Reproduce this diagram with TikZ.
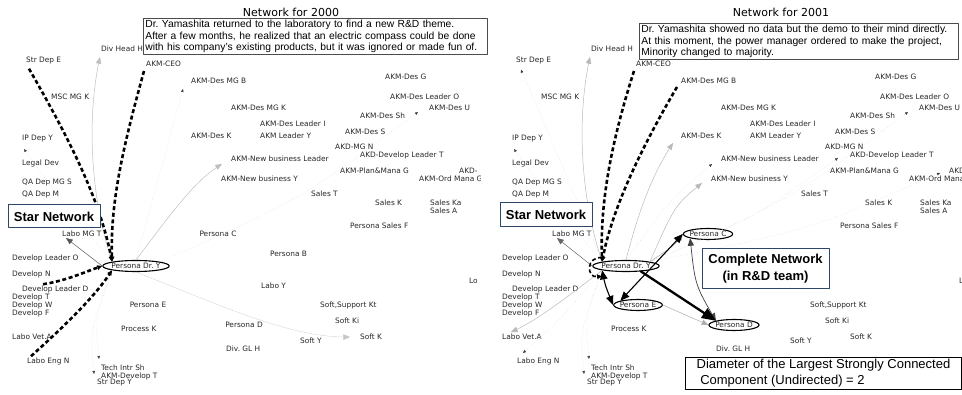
\documentclass[tikz,border=0pt]{standalone}
\usepackage{fontspec}
\setmainfont{Liberation Sans}
\newfontfamily\dejavu{DejaVu Sans}
\usetikzlibrary{arrows,arrows.meta,shapes.geometric}
\definecolor{tagblue}{RGB}{46,70,105}

\tikzset{
  lbl/.style={font=\dejavu\fontsize{7.4}{8}\selectfont,text=black!85,inner sep=1pt,anchor=west},
  ring/.style={ellipse,draw=black,line width=1.1pt,anchor=center,inner xsep=-1pt,inner ysep=0pt,minimum height=11pt},
  strong/.style={-{Triangle[length=5pt,width=4.6pt]},line width=2.6pt,line cap=butt,dash pattern=on 4pt off 2.6pt},
  weak/.style={->,line width=0.5pt},
  faint/.style={-{Triangle[black!75,length=3pt,width=2.6pt]},gray!30,line width=0.4pt,dotted},
  tie/.style={<->,line width=1.1pt},
  heavy/.style={->,line width=2.3pt},
  note/.style={draw=black!70,line width=0.8pt,align=left,font=\fontsize{10.3}{11.8}\selectfont,inner xsep=2pt,inner ysep=1.5pt,anchor=north west},
  tag/.style={draw=tagblue,line width=1pt,fill=white,font=\bfseries\fontsize{13}{17}\selectfont,align=center},
  title/.style={font=\dejavu\fontsize{11}{13}\selectfont}
}

\begin{document}
\frenchspacing
\begin{tikzpicture}[line cap=round,line join=round,>=triangle 45,x=1pt,y=-1pt]
\useasboundingbox (0,0) rectangle (962,395);
\node[title] (ltitle) at (291,12) {Network for 2000};
\node[title] (rtitle) at (781,12) {Network for 2001};
\foreach \p/\dx/\w in {l/0/480,r/490/472}{
\begin{scope}[xshift=\dx]
\clip (0,0) rectangle (\w,395);
\foreach \x/\y/\n/\t in {25/61/strdepe/Str Dep E, 100/49/divheadh/Div Head H, 145/64/ceo/AKM-CEO,
  190/81/desmgb/AKM-Des MG B, 50/97/mscmgk/MSC MG K, 21/139/ipdepy/IP Dep Y, 21/163/legaldev/Legal Dev,
  21/183/qamgs/QA Dep MG S, 21/195/qam/QA Dep M, 190/136/desk/AKM-Des K, 384/77/desg/AKM-Des G,
  389/97/desleadero/AKM-Des Leader O, 230/108/desmgk/AKM-Des MG K, 428/108/desu/AKM-Des U,
  359/116/dessh/AKM-Des Sh, 259/124/desleaderi/AKM-Des Leader I, 259/136/leadery/AKM Leader Y,
  344/132/dess/AKM-Des S, 334/147/akdmgn/AKD-MG N, 359/155/akdleadert/AKD-Develop Leader T,
  230/159/nbleader/AKM-New business Leader, 339/171/planmana/AKM-Plan\&Mana G, 458/171/akd/AKD-,
  418/179/ordmana/AKM-Ord Mana G, 220/179/nby/AKM-New business Y, 310/194/salest/Sales T,
  374/203/salesk/Sales K, 429/203/salesKa/Sales Ka, 429/211/salesa/Sales A, 349/226/salesf/Persona Sales F,
  61/234/labomgt/Labo MG T, 11/258/devleadero/Develop Leader O, 11/274/devn/Develop N,
  21/289/devleaderd/Develop Leader D, 11/297/devt/Develop T, 11/305/devw/Develop W, 11/313/devf/Develop F,
  468/281/lo/Lo, 319/305/softsupport/{Soft,Support Kt},
  334/321/softki/Soft Ki, 120/329/processk/Process K, 11/337/labovet/Labo Vet.A, 359/337/softk/Soft K,
  299/341/softy/Soft Y, 225/349/divglh/Div. GL H, 26/361/laboeng/Labo Eng N, 100/368/techintr/Tech Intr Sh,
  100/376/developt/AKM-Develop T, 96/383/strdepy/Str Dep Y}
  \node[lbl] (\p\n) at (\x,\y) {\t};
\node[lbl,ring] (\p dry) at (136,266) {Persona Dr. Y};
\end{scope}
}

\begin{scope}
\node[lbl,anchor=center] (lpc) at (218,234) {Persona C};
\node[lbl,anchor=center] (lpe) at (148,305) {Persona E};
\node[lbl,anchor=center] (lpd) at (244,325) {Persona D};
\node[lbl] (lpersonab) at (269,254) {Persona B};
\node[lbl] (llaboy) at (260,286) {Labo Y};
\draw[faint] (ldry.north) -- ([xshift=-7pt,yshift=-8pt]ldesmgb.west);
\draw[faint] (ldry.north east) .. controls (300,200) .. ([xshift=-10pt,yshift=-4pt]ldesu.west);
\draw[faint] (ldry.north west) .. controls (60,200) .. ([xshift=3pt,yshift=-10pt]lipdepy.west);
\draw[faint] (ldry.south west) .. controls (95,320) .. ([xshift=-1pt,yshift=9pt]ltechintr.west);
\draw[faint] (ldry.south west) .. controls (90,330) .. ([xshift=-6pt,yshift=2pt]ldevelopt.west);
\draw[weak,gray!50] (ldry.north west) .. controls (88,190) and (88,110) .. ([yshift=-4pt]ldivheadh.south west);
\draw[weak,gray!50] (ldry.north) .. controls (170,215) and (195,180) .. ([xshift=-8pt,yshift=-5pt]lnbleader.west);
\draw[weak,gray!45,densely dotted] (ldry.south) .. controls (220,305) and (290,338) .. ([xshift=-9pt]lsoftk.west);
\draw[weak,black!65] (ldry.west) .. controls (85,252) .. ([xshift=5pt]llabomgt.south west);
\draw[strong] ([xshift=4pt,yshift=-3pt]lstrdepe.south west) .. controls (70,140) and (100,200) .. (ldry.north west);
\draw[strong] ([xshift=-1pt,yshift=-3pt]lceo.south west) .. controls (125,140) and (110,200) .. (ldry.north west);
\draw[strong] ([xshift=22pt]ldevleaderd.north west) .. controls (65,281) and (85,272) .. (ldry.west);
\draw[strong] ([xshift=5pt]llaboeng.north west) .. controls (60,330) and (92,300) .. (ldry.south west);
\end{scope}

\begin{scope}[xshift=490]
\node[lbl,ring] (rpc) at (218,234) {Persona C};
\node[lbl,ring] (rpe) at (148,305) {Persona E};
\node[lbl,ring] (rpd) at (244,325) {Persona D};
\draw[faint] (rdry.north west) .. controls (70,160) .. ([xshift=6pt,yshift=-4pt]rstrdepe.south west);
\draw[faint] (rdry.north west) .. controls (60,200) .. ([xshift=3pt,yshift=-10pt]ripdepy.west);
\draw[faint] (rdry.north east) .. controls (300,200) .. ([xshift=-10pt,yshift=-4pt]rdesu.west);
\draw[faint] (rdry.north east) .. controls (260,220) .. ([xshift=-11pt,yshift=-3pt]rakdleadert.west);
\draw[faint] (rdry.north east) .. controls (320,230) .. ([xshift=-8pt,yshift=-2pt]rakd.west);
\draw[faint] (rdry.north) .. controls (180,200) .. ([xshift=-8pt,yshift=-5pt]rnbleader.west);
\draw[faint] (rdry.south west) .. controls (70,320) .. ([xshift=7pt,yshift=8pt]rlaboeng.west);
\draw[faint] (rdry.south west) .. controls (95,320) .. ([xshift=-1pt,yshift=9pt]rtechintr.west);
\draw[faint] (rdry.south west) .. controls (90,330) .. ([xshift=-6pt,yshift=2pt]rdevelopt.west);
\draw[weak,gray!55] (rdry.north west) .. controls (88,190) and (88,110) .. ([yshift=-4pt]rdivheadh.south west);
\draw[weak,gray!55] (rdry.north) .. controls (150,205) and (165,170) .. ([xshift=-7pt,yshift=-7pt]rdesk.west);
\draw[weak,gray!55] (rdry.north east) .. controls (185,205) .. ([xshift=-8pt,yshift=-4pt]rnby.west);
\draw[weak,black!60] (rdry.west) .. controls (85,252) .. ([xshift=6pt]rlabomgt.south west);
\draw[weak,gray!55] (rdry.south west) .. controls (80,295) and (45,322) .. ([xshift=10pt,yshift=5pt]rlabovet.west);
\draw[weak,gray!65] (rdry.north east) .. controls (185,245) .. (rpc.west);
\draw[weak,gray!65] (rpe.east) -- (rpd.west);
\draw[tie,line width=0.7pt,black!75] (rpc.south west) .. controls (205,285) .. (rpd.north west);
\draw[tie] (rpe.north west) -- (rpc.west);
\draw[tie] (rdry.south west) .. controls (115,285) .. (rpe.west);
\draw[heavy] (rdry.-20) -- (rpd.north west);
\draw[strong] ([xshift=-1pt,yshift=-3pt]rceo.south west) .. controls (122,140) and (110,200) .. (rdry.north west);
\draw[strong] ([xshift=-3pt,yshift=-2pt]rdesmgb.south west) .. controls (150,150) and (122,210) .. (rdry.north west);
\draw[strong,line width=1.6pt] ([yshift=4pt]rdry.north west) .. controls (96,256) and (96,278) .. ([yshift=-6pt]rdry.south west);
\end{scope}

\node[note,text width=340pt] (lnote) at (143,18) {Dr. Yamashita returned to the laboratory to find a new R\&D theme.\\
After a few months, he realized that an electric compass could be done\\
with his company's existing products, but it was ignored or made fun of.};
\node[note,text width=315pt] (rnote) at (639,23) {Dr. Yamashita showed no data but the demo to their mind directly.\\
At this moment, the power manager ordered to make the project,\\
Minority changed to majority.};
\node[tag,minimum width=92pt,minimum height=23pt] (lstar) at (54,216.5) {Star Network};
\node[tag,minimum width=92pt,minimum height=24pt] (rstar) at (546,215) {Star Network};
\node[tag,minimum width=127pt,minimum height=40pt] (cnet) at (765.5,268.5) {Complete Network\\(in R\&D team)};
\node[draw=black,line width=1pt,fill=white,anchor=north west,align=left,inner xsep=5pt,inner ysep=2pt,
  font=\fontsize{13}{16}\selectfont,minimum width=276pt] (diam) at (685,357) {Diameter of the Largest Strongly Connected\\\ Component (Undirected) = 2};
\end{tikzpicture}
\end{document}
